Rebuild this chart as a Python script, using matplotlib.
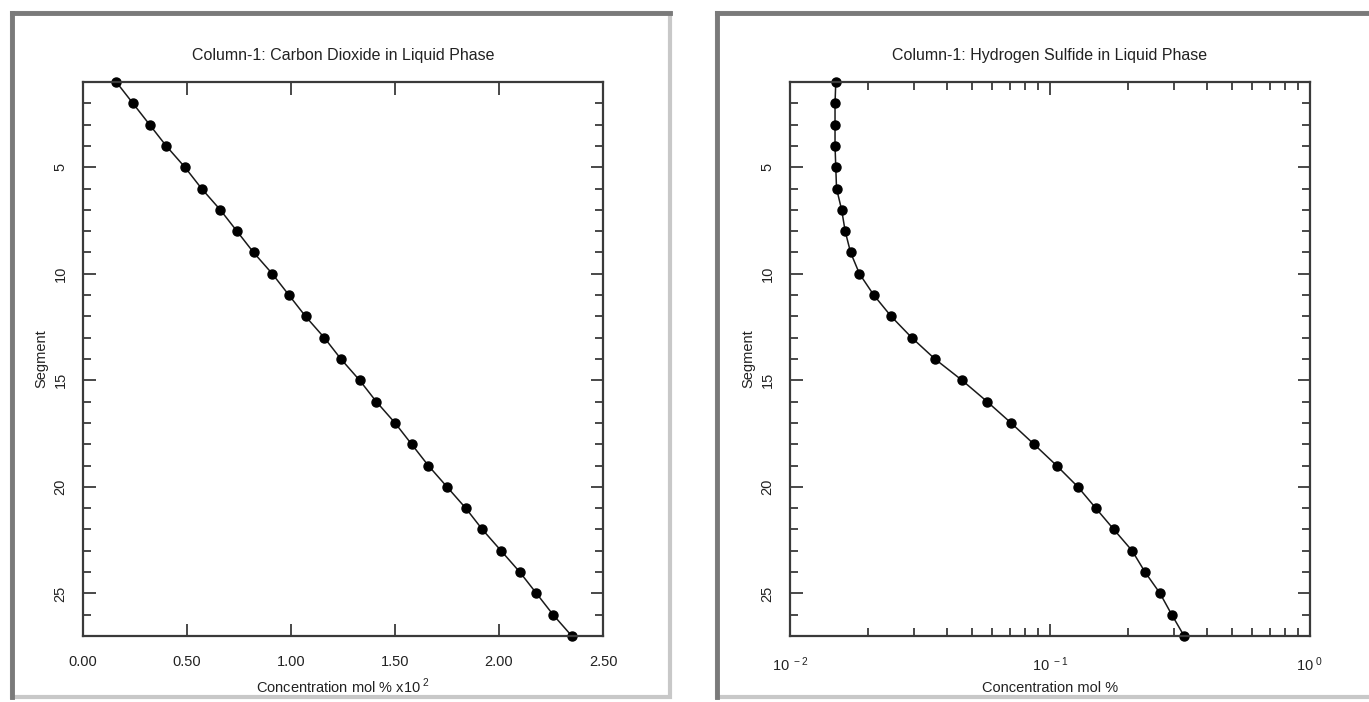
import numpy as np
import matplotlib
matplotlib.use("Agg")
import matplotlib.pyplot as plt
from matplotlib.patches import Rectangle
from matplotlib.ticker import MultipleLocator, FixedLocator, LogLocator, NullFormatter

plt.rcParams['font.family'] = ['Liberation Sans', 'DejaVu Sans']
plt.rcParams['mathtext.fontset'] = 'custom'
plt.rcParams['mathtext.rm'] = 'Liberation Sans'

W, H = 1369, 702

segments = np.arange(1, 28)
# CO2 in liquid phase, mol % x10^2
co2 = [0.16, 0.24, 0.32, 0.40, 0.49, 0.57, 0.66, 0.74, 0.82, 0.91,
       0.99, 1.07, 1.16, 1.24, 1.33, 1.41, 1.50, 1.58, 1.66, 1.75,
       1.84, 1.92, 2.01, 2.10, 2.18, 2.26, 2.35]
# H2S in liquid phase, mol %
h2s = [0.0150, 0.0149, 0.0149, 0.0149, 0.0150, 0.0151, 0.0158, 0.0163,
       0.0171, 0.0185, 0.0210, 0.0245, 0.0294, 0.0361, 0.0459, 0.0573,
       0.0708, 0.0868, 0.106, 0.128, 0.150, 0.176, 0.207, 0.232, 0.265,
       0.294, 0.328]

titles = ["Column-1: Carbon Dioxide in Liquid Phase",
          "Column-1: Hydrogen Sulfide in Liquid Phase"]
xlabels = [r"Concentration mol % x10$^{\,\,2}$", "Concentration mol %"]
co2_ticks = [0.0, 0.5, 1.0, 1.5, 2.0, 2.5]
co2_ticklabels = ["0.00", "0.50", "1.00", "1.50", "2.00", "2.50"]
h2s_ticks = [0.01, 0.1, 1.0]
h2s_ticklabels = [r"$\mathregular{10^{\,\,-2}}$", r"$\mathregular{10^{\,\,-1}}$",
                  r"$\mathregular{10^{\,\,0}}$"]

fig = plt.figure(figsize=(W / 100, H / 100), dpi=100)
fig.patch.set_facecolor('white')


def px(x0, y0, x1, y1):
    # pixel box -> figure fraction (left, bottom, width, height)
    return [x0 / W, 1 - y1 / H, (x1 - x0) / W, (y1 - y0) / H]


def panel(x0, y0, x1, y1):
    l, b, w, h = px(x0, y0, x1, y1)
    fig.add_artist(Rectangle((l, b), w, h, transform=fig.transFigure,
                             facecolor='white', edgecolor='#c8c8c8', lw=3, zorder=0))
    # darker top and left edges
    fig.add_artist(plt.Line2D([l, l + w], [b + h, b + h], transform=fig.transFigure,
                              color='#7a7a7a', lw=3.5, zorder=1))
    fig.add_artist(plt.Line2D([l, l], [b, b + h], transform=fig.transFigure,
                              color='#7a7a7a', lw=3.5, zorder=1))


panel(12, 13, 670, 697)
panel(717, 13, 1375, 697)

edge = '#3a3a3a'
txt = '#222222'
fs = 10.5

axes = []
for i, left in enumerate([83, 790]):
    ax = fig.add_axes(px(left, 82, left + 520, 636))
    for s in ax.spines.values():
        s.set_color(edge)
        s.set_linewidth(1.6)
    ax.tick_params(which='both', direction='in', top=True, right=True,
                   color=edge, width=1.3, labelcolor=txt, labelsize=fs)
    ax.tick_params(which='major', length=9)
    ax.tick_params(which='minor', length=6)
    ax.set_ylim(27, 1)
    ax.yaxis.set_major_locator(FixedLocator([5, 10, 15, 20, 25]))
    ax.yaxis.set_minor_locator(MultipleLocator(1))
    ax.tick_params(axis='y', pad=11)
    ax.tick_params(axis='x', pad=14)
    ax.set_ylabel("Segment", fontsize=fs, color=txt, labelpad=4)
    ax.set_xlabel(xlabels[i], fontsize=fs, color=txt, labelpad=5)
    ax.set_title(titles[i], fontsize=11.5, color=txt, pad=16)
    axes.append(ax)

ax1, ax2 = axes
ax1.plot(co2, segments, color='#1a1a1a', lw=1.1, marker='o', ms=6.5,
         mfc='black', mec='black', clip_on=False)
ax1.set_xlim(0, 2.5)
ax1.set_xticks(co2_ticks)
ax1.set_xticklabels(co2_ticklabels)

ax2.plot(h2s, segments, color='#1a1a1a', lw=1.1, marker='o', ms=6.5,
         mfc='black', mec='black', clip_on=False)
ax2.set_xscale('log')
ax2.set_xlim(0.01, 1.0)
ax2.xaxis.set_major_locator(FixedLocator(h2s_ticks))
ax2.set_xticklabels(h2s_ticklabels)
ax2.xaxis.set_minor_locator(LogLocator(base=10, subs=np.arange(2, 10)))
ax2.xaxis.set_minor_formatter(NullFormatter())

for ax in axes:
    for lab in ax.get_yticklabels():
        lab.set_rotation(90)
        lab.set_va('center')

fig.savefig("out.png", dpi=100, facecolor='white')
